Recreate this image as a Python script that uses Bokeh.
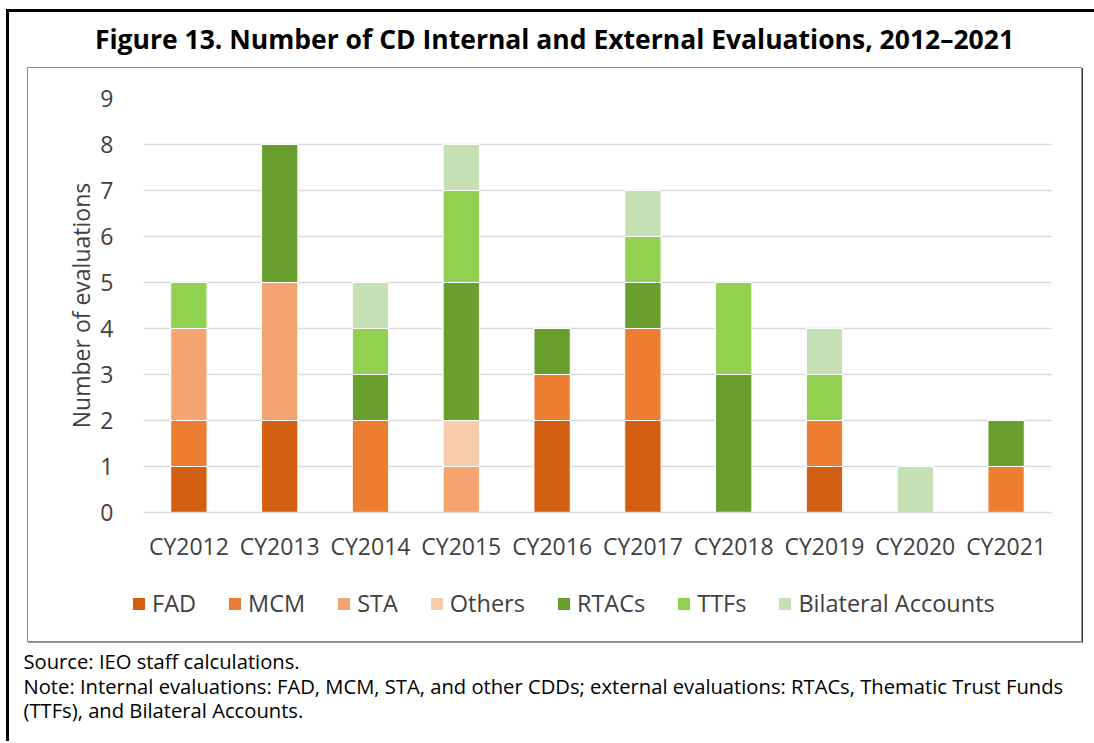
from bokeh.plotting import figure
from bokeh.models import Range1d, FactorRange, Legend, LegendItem, Label, ColumnDataSource
from bokeh.layouts import column, row
from bokeh.embed import file_html
from bokeh.resources import INLINE

years = ["CY2012", "CY2013", "CY2014", "CY2015", "CY2016", "CY2017", "CY2018", "CY2019", "CY2020", "CY2021"]
FAD = [1, 2, 0, 0, 2, 2, 0, 1, 0, 0]
MCM = [1, 0, 2, 0, 1, 2, 0, 1, 0, 1]
STA = [2, 3, 0, 1, 0, 0, 0, 0, 0, 0]
Others = [0, 0, 0, 1, 0, 0, 0, 0, 0, 0]
RTACs = [0, 3, 1, 3, 1, 1, 3, 0, 0, 1]
TTFs = [1, 0, 1, 2, 0, 1, 2, 1, 0, 0]
Bilateral = [0, 0, 1, 1, 0, 1, 0, 1, 1, 0]
series_names = ["FAD", "MCM", "STA", "Others", "RTACs", "TTFs", "Bilateral Accounts"]
colors = ["#D35F13", "#ED7D31", "#F3A46F", "#F8CBAD", "#6A9F2E", "#92D050", "#C5E0B4"]
y_ticks = list(range(0, 10))

title_text = "Figure 13. Number of CD Internal and External Evaluations, 2012\u20132021"
source_text = "Source: IEO staff calculations."
note_text1 = "Note: Internal evaluations: FAD, MCM, STA, and other CDDs; external evaluations: RTACs, Thematic Trust Funds"
note_text2 = "(TTFs), and Bilateral Accounts."

FONT = "Open Sans"
TXT = "#404040"


def text_fig(w, h):
    f = figure(width=w, height=h, x_range=Range1d(0, w), y_range=Range1d(h, 0),
               x_axis_type=None, y_axis_type=None, output_backend="svg", toolbar_location=None,
               min_border=0, outline_line_color=None)
    f.grid.visible = False
    return f


# ---- title ----
tfig = text_fig(1085, 55)
tfig.add_layout(Label(x=545, y=26, text=title_text, text_font=FONT, text_font_style="bold",
                      text_font_size="26.5px", text_align="center", text_baseline="middle",
                      text_color="black"))

# ---- main chart ----
keys = ["FAD", "MCM", "STA", "Others", "RTACs", "TTFs", "Bilateral"]
src = ColumnDataSource(dict(years=years, FAD=FAD, MCM=MCM, STA=STA, Others=Others,
                            RTACs=RTACs, TTFs=TTFs, Bilateral=Bilateral))

p = figure(x_range=FactorRange(*years), y_range=Range1d(0, 9),
           width=1053, height=509, output_backend="svg", toolbar_location=None,
           min_border_left=115, min_border_right=30, min_border_top=30, min_border_bottom=65,
           outline_line_color=None)

rs = p.vbar_stack(keys, x="years", width=0.4, source=src, color=colors,
                  line_color="white", line_width=1)

p.yaxis.ticker = y_ticks
p.yaxis.axis_line_color = None
p.yaxis.major_tick_line_color = None
p.yaxis.minor_tick_line_color = None
p.yaxis.major_label_standoff = 24
p.yaxis.major_label_text_font = FONT
p.yaxis.major_label_text_font_size = "23px"
p.yaxis.major_label_text_color = TXT
p.yaxis.axis_label = "Number of evaluations"
p.yaxis.axis_label_text_font = FONT
p.yaxis.axis_label_text_font_size = "23px"
p.yaxis.axis_label_text_font_style = "normal"
p.yaxis.axis_label_text_color = TXT
p.yaxis.axis_label_standoff = 0

p.xaxis.axis_line_color = "#D9D9D9"
p.xaxis.axis_line_width = 1.5
p.xaxis.major_tick_line_color = None
p.xaxis.minor_tick_line_color = None
p.xaxis.major_label_standoff = 11
p.xaxis.major_label_text_font = FONT
p.xaxis.major_label_text_font_size = "23px"
p.xaxis.major_label_text_color = TXT

p.xgrid.grid_line_color = None
p.ygrid.grid_line_color = "#D9D9D9"
p.ygrid.grid_line_width = 1.5

# ---- legend strip (same series colours, shown under the chart) ----
lfig = text_fig(1053, 64)
# zero-size swatch renderers: they only give the legend its colours
lrs = [lfig.vbar(x=[0], top=[0], bottom=[0], width=0, fill_color=c, line_alpha=0) for c in colors]
legend = Legend(items=[LegendItem(label=n, renderers=[r]) for n, r in zip(series_names, lrs)],
                orientation="horizontal", location=(103, 22),
                border_line_alpha=0, background_fill_alpha=0,
                label_text_font=FONT, label_text_font_size="23.5px", label_text_color=TXT,
                glyph_width=15, glyph_height=15, label_standoff=6, spacing=31,
                padding=0, margin=0)
lfig.add_layout(legend, "center")

chart_box = column(p, row(lfig), spacing=0, margin=(0, 0, 0, 18),
                   styles={"border": "1px solid #8C8C8C", "box-shadow": "1px 1px 0 #3A3A3A"})

# ---- notes ----
nfig = text_fig(1085, 99)
for txt, yy in [(source_text, 18), (note_text1, 43), (note_text2, 67)]:
    nfig.add_layout(Label(x=14, y=yy, text=txt, text_font=FONT, text_font_size="20.2px",
                          text_align="left", text_baseline="middle", text_color="black"))

layout = column(tfig, chart_box, nfig, spacing=0,
                margin=(9, 0, 0, 6),
                styles={"border-left": "3px solid black", "border-top": "3px solid black"})

open("out.html", "w").write(file_html(layout, INLINE))
